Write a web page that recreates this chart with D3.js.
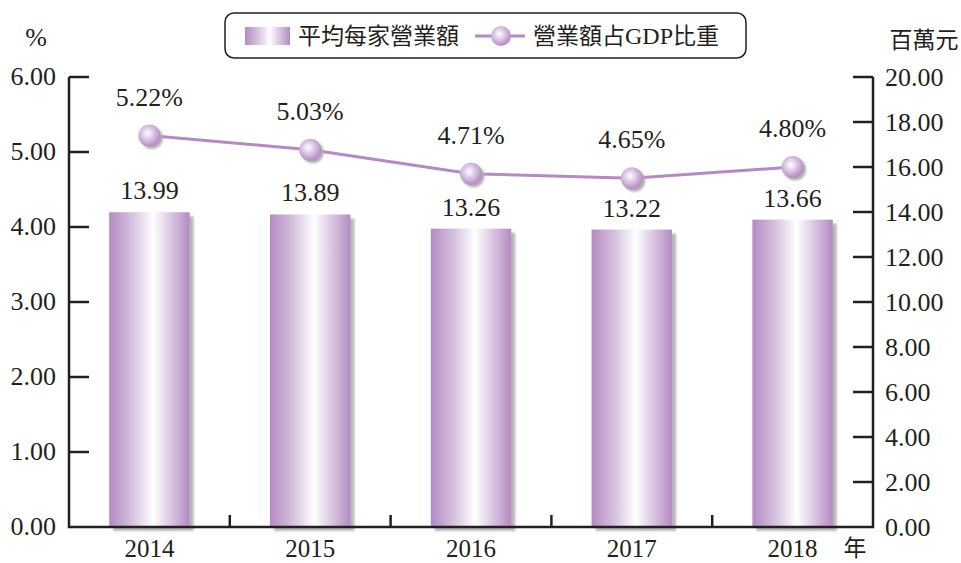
<!DOCTYPE html>
<html>
<head>
    <meta charset='utf-8'>
    <title>營業額</title>
    <script src='https://cdn.jsdelivr.net/npm/d3@7'></script>
    <style>
        body { margin: 0; background: #fff; }
        text { font-family: 'Liberation Serif', serif; fill: #231f20; }
        text.cjk { font-family: 'Noto Sans CJK TC', sans-serif; }
    </style>
</head>
<body>
    <svg width='961' height='563'></svg>
    <script>
        const years = ['2014', '2015', '2016', '2017', '2018']
        const avgRevenue = [13.99, 13.89, 13.26, 13.22, 13.66]   // 百萬元
        const gdpShare = [5.22, 5.03, 4.71, 4.65, 4.80]          // %
        const leftTicks = [0, 1, 2, 3, 4, 5, 6]
        const rightTicks = [0, 2, 4, 6, 8, 10, 12, 14, 16, 18, 20]

        const svg = d3.select('svg')
        const margin = { top: 77, left: 69, right: 88, bottom: 36 }
        const W = 961, H = 563
        const x0 = margin.left, x1 = W - margin.right
        const y0 = H - margin.bottom, y1 = margin.top
        const purple = '#b48ac2'
        const axisColor = '#231f20'
        const numSize = '26px', cjkSize = '23px'

        const x = d3.scaleBand().domain(years).range([x0, x1]).paddingInner(0.5).paddingOuter(0.25)
        const yL = d3.scaleLinear().domain([0, 6]).range([y0, y1])
        const yR = d3.scaleLinear().domain([0, 20]).range([y0, y1])
        const cx = d => x(d) + x.bandwidth() / 2

        const defs = svg.append('defs')
        const bg = defs.append('linearGradient').attr('id', 'barGrad')
        ;[[0, '#b48ac2'], [0.3, '#d8c4e0'], [0.55, '#ffffff'], [0.75, '#dccbe4'], [1, '#b48ac2']]
            .forEach(s => bg.append('stop').attr('offset', s[0]).attr('stop-color', s[1]))
        const rg = defs.append('radialGradient').attr('id', 'dotGrad')
            .attr('cx', '0.42').attr('cy', '0.4').attr('r', '0.6')
        ;[[0, '#ffffff'], [0.35, '#e4d4ec'], [1, '#b48ac2']]
            .forEach(s => rg.append('stop').attr('offset', s[0]).attr('stop-color', s[1]))
        const blur = defs.append('filter').attr('id', 'soft')
        blur.append('feGaussianBlur').attr('stdDeviation', 1.2)

        // 柱子阴影 + 柱子
        const bars = svg.append('g')
        bars.selectAll('.shadow').data(avgRevenue).enter().append('rect')
            .attr('class', 'shadow')
            .attr('x', (d, i) => x(years[i]) + 4)
            .attr('y', d => yR(d) + 4)
            .attr('width', x.bandwidth())
            .attr('height', d => y0 - yR(d))
            .attr('fill', '#b8b8b8')
            .attr('filter', 'url(#soft)')
        bars.selectAll('.bar').data(avgRevenue).enter().append('rect')
            .attr('class', 'bar')
            .attr('x', (d, i) => x(years[i]))
            .attr('y', d => yR(d))
            .attr('width', x.bandwidth())
            .attr('height', d => y0 - yR(d))
            .attr('fill', 'url(#barGrad)')
        bars.selectAll('.val').data(avgRevenue).enter().append('text')
            .attr('x', (d, i) => cx(years[i]))
            .attr('y', d => yR(d) - 13)
            .attr('text-anchor', 'middle')
            .style('font-size', numSize)
            .text(d => d.toFixed(2))

        // 坐标轴
        const axes = svg.append('g').attr('stroke', axisColor).attr('stroke-width', 2.5)
        axes.append('path').attr('fill', 'none')
            .attr('d', `M${x0},${y1}V${y0}H${x1}V${y1}`)
        axes.selectAll('.lt').data(leftTicks.slice(1)).enter().append('line')
            .attr('x1', x0).attr('x2', x0 + 20).attr('y1', d => yL(d)).attr('y2', d => yL(d))
        axes.selectAll('.rt').data(rightTicks.slice(1)).enter().append('line')
            .attr('x1', x1).attr('x2', x1 - 20).attr('y1', d => yR(d)).attr('y2', d => yR(d))
        axes.selectAll('.bt').data(years.slice(1)).enter().append('line')
            .attr('x1', d => x(d) - x.step() * 0.25).attr('x2', d => x(d) - x.step() * 0.25)
            .attr('y1', y0).attr('y2', y0 - 12)

        svg.selectAll('.ltl').data(leftTicks).enter().append('text')
            .attr('x', x0 - 13).attr('y', d => yL(d) + 8)
            .attr('text-anchor', 'end').style('font-size', numSize)
            .text(d => d.toFixed(2))
        svg.selectAll('.rtl').data(rightTicks).enter().append('text')
            .attr('x', x1 + 12).attr('y', d => yR(d) + 9)
            .style('font-size', numSize)
            .text(d => d.toFixed(2))
        svg.selectAll('.btl').data(years).enter().append('text')
            .attr('x', d => cx(d)).attr('y', y0 + 30)
            .attr('text-anchor', 'middle').style('font-size', '25px')
            .text(d => d)

        svg.append('text').attr('x', 36).attr('y', 46).attr('text-anchor', 'middle')
            .style('font-size', numSize).text('%')
        svg.append('text').attr('class', 'cjk').attr('x', 924).attr('y', 48).attr('text-anchor', 'middle')
            .style('font-size', cjkSize).text('百萬元')
        svg.append('text').attr('class', 'cjk').attr('x', 855).attr('y', y0 + 29).attr('text-anchor', 'middle')
            .style('font-size', cjkSize).text('年')

        // 折线
        const line = d3.line().x((d, i) => cx(years[i])).y(d => yL(d))
        svg.append('path').datum(gdpShare)
            .attr('d', line).attr('fill', 'none').attr('stroke', purple).attr('stroke-width', 3)
        const dots = svg.append('g')
        dots.selectAll('.ds').data(gdpShare).enter().append('circle')
            .attr('cx', (d, i) => cx(years[i]) + 2.5)
            .attr('cy', d => yL(d) + 2.5)
            .attr('r', 11).attr('fill', '#b0b0b0').attr('filter', 'url(#soft)')
        dots.selectAll('.dot').data(gdpShare).enter().append('circle')
            .attr('cx', (d, i) => cx(years[i]))
            .attr('cy', d => yL(d))
            .attr('r', 11).attr('fill', 'url(#dotGrad)')
        svg.selectAll('.pct').data(gdpShare).enter().append('text')
            .attr('x', (d, i) => cx(years[i]))
            .attr('y', d => yL(d) - 30)
            .attr('text-anchor', 'middle').style('font-size', numSize)
            .text(d => d.toFixed(2) + '%')

        // 图例
        const lg = svg.append('g')
        lg.append('rect').attr('x', 225).attr('y', 13).attr('width', 521).attr('height', 45)
            .attr('rx', 9).attr('fill', '#fff').attr('stroke', axisColor).attr('stroke-width', 1.5)
        lg.append('rect').attr('x', 245).attr('y', 27).attr('width', 45).attr('height', 18)
            .attr('fill', 'url(#barGrad)')
        lg.append('text').attr('class', 'cjk').attr('x', 298).attr('y', 44)
            .style('font-size', cjkSize).text('平均每家營業額')
        lg.append('line').attr('x1', 475).attr('x2', 525).attr('y1', 36).attr('y2', 36)
            .attr('stroke', purple).attr('stroke-width', 3)
        lg.append('circle').attr('cx', 501).attr('cy', 36).attr('r', 10).attr('fill', 'url(#dotGrad)')
        lg.append('text').attr('class', 'cjk').attr('x', 533).attr('y', 44)
            .style('font-size', cjkSize).text('營業額占')
        lg.append('text').attr('x', 625).attr('y', 44)
            .style('font-size', '24px').text('GDP')
        lg.append('text').attr('class', 'cjk').attr('x', 673).attr('y', 44)
            .style('font-size', cjkSize).text('比重')
    </script>
</body>
</html>
